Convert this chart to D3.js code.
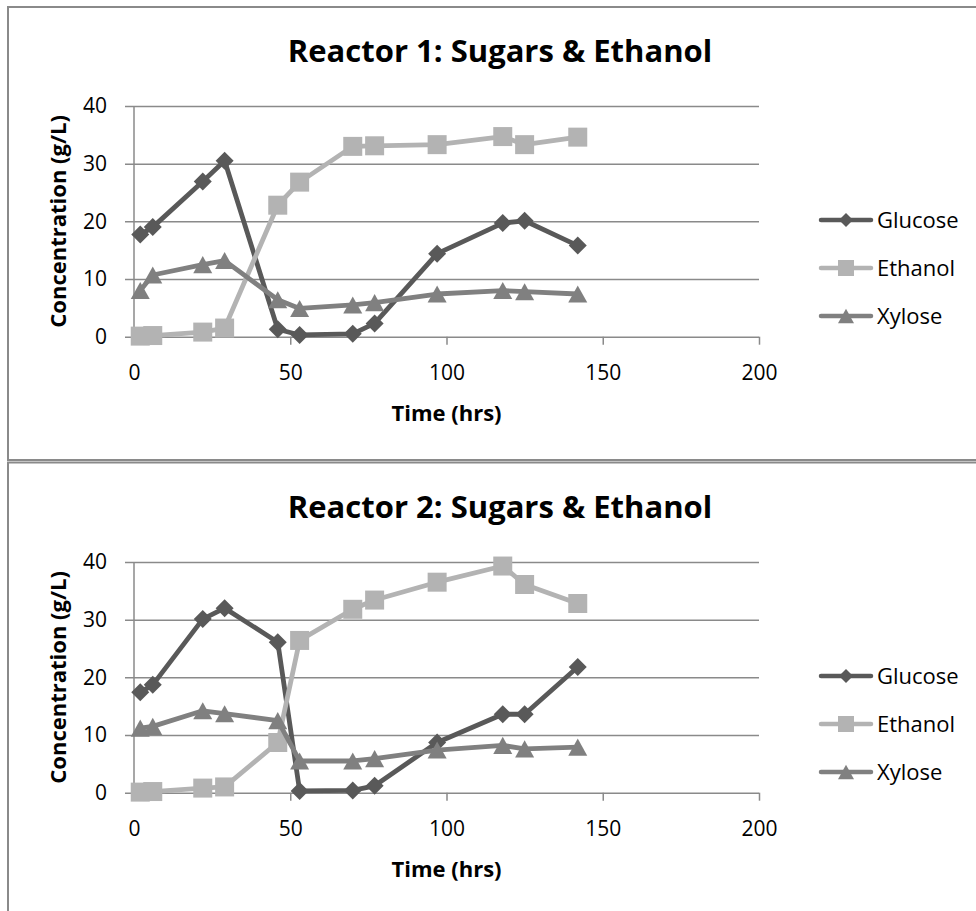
<!DOCTYPE html>
<html><head><meta charset="utf-8">
<script src="https://cdn.jsdelivr.net/npm/d3@7"></script>
<style>body{margin:0;background:#fff} svg{display:block;font-family:"Open Sans",Lato,sans-serif}</style>
</head><body><svg id="c" width="976" height="911"></svg>
<script>
const time = [2, 6, 22, 29, 46, 53, 70, 77, 97, 118, 125, 142];
const r1Glucose = [17.7, 19.0, 26.9, 30.5, 1.3, 0.3, 0.5, 2.3, 14.4, 19.7, 20.1, 15.8];
const r1Ethanol = [0.1, 0.2, 0.8, 1.5, 22.8, 26.8, 33.0, 33.1, 33.3, 34.7, 33.3, 34.6];
const r1Xylose  = [8.0, 10.7, 12.5, 13.2, 6.4, 4.9, 5.5, 5.9, 7.4, 8.0, 7.8, 7.4];
const r2Glucose = [17.4, 18.7, 30.1, 32.0, 26.1, 0.3, 0.4, 1.2, 8.7, 13.6, 13.6, 21.8];
const r2Ethanol = [0.1, 0.2, 0.8, 1.0, 8.7, 26.4, 31.8, 33.4, 36.5, 39.3, 36.1, 32.8];
const r2Xylose  = [11.2, 11.5, 14.2, 13.7, 12.5, 5.5, 5.5, 5.9, 7.4, 8.2, 7.6, 7.9];
const seriesNames = ["Glucose", "Ethanol", "Xylose"];
const titles = ["Reactor 1: Sugars & Ethanol", "Reactor 2: Sugars & Ethanol"];
const xTicks = [0, 50, 100, 150, 200];
const yTicks = [0, 10, 20, 30, 40];
const xLabel = "Time (hrs)";
const yLabel = "Concentration (g/L)";

const charts = [
  {title: titles[0], series: [r1Glucose, r1Ethanol, r1Xylose]},
  {title: titles[1], series: [r2Glucose, r2Ethanol, r2Xylose]}
];
const colors = ["#595959", "#b3b3b3", "#808080"];

const svg = d3.select("#c");
// frames
svg.append("rect").attr("x", 8).attr("y", 7).attr("width", 1000).attr("height", 453)
  .attr("fill", "none").attr("stroke", "#8a8a8a").attr("stroke-width", 2);
svg.append("rect").attr("x", 8).attr("y", 462.5).attr("width", 1000).attr("height", 500)
  .attr("fill", "none").attr("stroke", "#8a8a8a").attr("stroke-width", 2);

const x = d3.scaleLinear().domain([0, 200]).range([134, 759]);
const y = d3.scaleLinear().domain([0, 40]).range([336.7, 106]);

function marker(k, size) {
  const h = size / 2;
  if (k === 0) return `M0,${-h}L${h},0L0,${h}L${-h},0Z`;
  if (k === 1) return `M${-h},${-h}H${h}V${h}H${-h}Z`;
  const hh = size * 0.45;
  return `M0,${-hh}L${h},${hh}L${-h},${hh}Z`;
}
const plotSize = [18, 19, 19];
const legendSize = [14, 16, 16];

charts.forEach((c, i) => {
  const g = svg.append("g").attr("transform", `translate(0,${i * 456})`);
  // title
  g.append("text").attr("x", 500).attr("y", 61.5).attr("text-anchor", "middle")
    .attr("font-size", 31).attr("font-weight", "bold").attr("fill", "#000").text(c.title);
  // y axis with gridlines
  const ya = g.append("g").attr("transform", "translate(134,0)")
    .call(d3.axisLeft(y).tickValues(yTicks).tickSize(-(759 - 134)).tickPadding(27).tickFormat(d3.format("d")));
  ya.select(".domain").remove();
  ya.selectAll(".tick line").attr("x1", -9).attr("stroke", "#8a8a8a").attr("stroke-width", 1.5);
  ya.selectAll(".tick text").attr("font-size", 21).attr("fill", "#000").attr("font-family", "Open Sans");
  // x axis
  const xa = g.append("g").attr("transform", `translate(0,${y(0)})`)
    .call(d3.axisBottom(x).tickValues(xTicks).tickSize(8).tickPadding(20).tickFormat(d3.format("d")));
  xa.select(".domain").remove();
  xa.selectAll(".tick line").attr("stroke", "#8a8a8a").attr("stroke-width", 1.5);
  xa.selectAll(".tick text").attr("font-size", 21).attr("fill", "#000").attr("font-family", "Open Sans");
  // vertical axis line
  g.append("line").attr("x1", 134).attr("x2", 134).attr("y1", y(40)).attr("y2", y(0) + 8)
    .attr("stroke", "#8a8a8a").attr("stroke-width", 1.5);
  // axis titles
  g.append("text").attr("x", 446.5).attr("y", 421).attr("text-anchor", "middle")
    .attr("font-size", 22).attr("font-weight", "bold").text(xLabel);
  g.append("text").attr("transform", `translate(66,${(y(0) + y(40)) / 2}) rotate(-90)`)
    .attr("text-anchor", "middle").attr("font-size", 22).attr("font-weight", "bold").text(yLabel);

  // series
  c.series.forEach((vals, k) => {
    const pts = time.map((t, j) => [t, vals[j]]);
    g.append("path").datum(pts)
      .attr("d", d3.line().x(d => x(d[0])).y(d => y(d[1])))
      .attr("fill", "none").attr("stroke", colors[k]).attr("stroke-width", 4.8)
      .attr("stroke-linejoin", "round").attr("stroke-linecap", "round");
    g.selectAll(null).data(pts).enter().append("path")
      .attr("transform", d => `translate(${x(d[0])},${y(d[1])})`)
      .attr("d", marker(k, plotSize[k]))
      .attr("fill", colors[k]);
  });

  // legend
  const ly = [220, 268, 316];
  seriesNames.forEach((name, k) => {
    const lg = g.append("g").attr("transform", `translate(0,${ly[k]})`);
    lg.append("line").attr("x1", 821).attr("x2", 871).attr("y1", 0).attr("y2", 0)
      .attr("stroke", colors[k]).attr("stroke-width", 4.5).attr("stroke-linecap", "round");
    lg.append("path").attr("transform", "translate(846,0)")
      .attr("d", marker(k, legendSize[k])).attr("fill", colors[k]);
    lg.append("text").attr("x", 877).attr("y", 0).attr("dy", "0.35em")
      .attr("font-size", 22).attr("fill", "#000").text(name);
  });
});
</script>
</body></html>
